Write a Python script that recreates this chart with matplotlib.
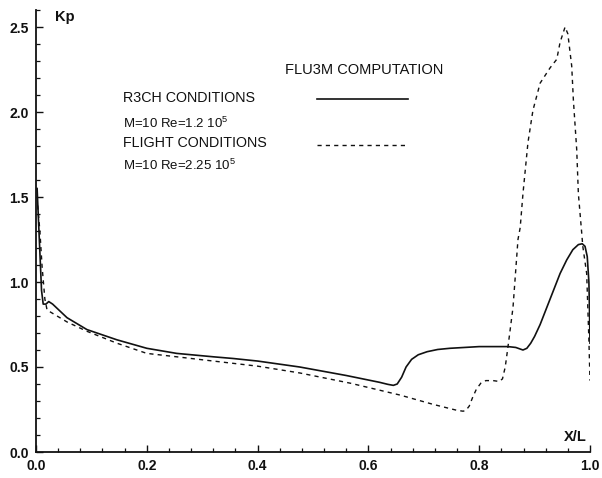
#!/usr/bin/env python3

##### Kp distribution along the body, FLU3M computation
##### R3CH wind tunnel conditions vs flight conditions

import numpy as np
import matplotlib.pyplot as plt
from matplotlib.ticker import MultipleLocator

##### Data
# R3CH conditions, M=10 Re=1.2 10^5 (solid)
x_r3ch = [0.002, 0.006, 0.010, 0.013, 0.018, 0.023, 0.030, 0.056, 0.092, 0.146,
          0.200, 0.254, 0.320, 0.356, 0.400, 0.476, 0.560, 0.620, 0.635,
          0.645, 0.652, 0.660, 0.668, 0.678, 0.690, 0.706, 0.725, 0.747,
          0.800, 0.852, 0.866, 0.879, 0.886, 0.893, 0.900, 0.910, 0.922,
          0.934, 0.946, 0.958, 0.969, 0.979, 0.986, 0.991, 0.995, 0.998,
          0.999, 1.000]
kp_r3ch = [1.55, 1.25, 0.95, 0.87, 0.87, 0.885, 0.87, 0.79, 0.72, 0.66,
           0.61, 0.58, 0.56, 0.55, 0.535, 0.50, 0.45, 0.41, 0.398,
           0.392, 0.40, 0.44, 0.50, 0.545, 0.572, 0.59, 0.603, 0.61,
           0.62, 0.62, 0.615, 0.60, 0.61, 0.64, 0.68, 0.75, 0.85,
           0.95, 1.05, 1.13, 1.19, 1.22, 1.225, 1.21, 1.15, 1.00,
           0.85, 0.64]

# Flight conditions, M=10 Re=2.25 10^5 (dashed)
x_flight = [0.003, 0.007, 0.011, 0.016, 0.020, 0.056, 0.092, 0.146, 0.200,
            0.254, 0.320, 0.400, 0.476, 0.567, 0.657, 0.717, 0.760, 0.771,
            0.776, 0.782, 0.788, 0.795, 0.803, 0.812, 0.825, 0.836, 0.842,
            0.847, 0.852, 0.861, 0.870, 0.874, 0.879, 0.888, 0.897, 0.910,
            0.928, 0.940, 0.946, 0.955, 0.960, 0.967, 0.970, 0.976, 0.979,
            0.985, 0.987, 0.994, 0.998, 1.000]
kp_flight = [1.45, 1.30, 1.09, 0.90, 0.835, 0.765, 0.71, 0.64, 0.58,
             0.56, 0.535, 0.505, 0.465, 0.405, 0.335, 0.28, 0.245, 0.24,
             0.245, 0.27, 0.32, 0.37, 0.405, 0.42, 0.42, 0.415, 0.43,
             0.50, 0.62, 0.85, 1.25, 1.32, 1.52, 1.82, 2.01, 2.17,
             2.26, 2.31, 2.41, 2.50, 2.46, 2.27, 2.07, 1.78, 1.52,
             1.29, 1.21, 1.05, 0.66, 0.42]

x_ticks = [0.0, 0.2, 0.4, 0.6, 0.8, 1.0]
x_tick_labels = ['0.0', '0.2', '0.4', '0.6', '0.8', '1.0']
y_ticks = [0.0, 0.5, 1.0, 1.5, 2.0, 2.5]
y_tick_labels = ['0.0', '0.5', '1.0', '1.5', '2.0', '2.5']

##### Style
plt.rcParams['font.family'] = ['Liberation Sans', 'DejaVu Sans']
plt.rcParams['mathtext.default'] = 'regular'
ink = '#111111'

fig = plt.figure(figsize=(6.02, 4.78), dpi=100)
ax = fig.add_axes([36 / 602, 1 - 452 / 478, 554 / 602, 442 / 478])

##### Curves
ax.plot(x_r3ch, kp_r3ch, color=ink, lw=1.2, solid_joinstyle='round')
ax.plot(x_flight, kp_flight, color=ink, lw=1.0, linestyle=(0, (3, 3)))

##### Axes
ax.set_xlim(0, 1.0)
ax.set_ylim(0, 2.6)
for side in ['top', 'right']:
    ax.spines[side].set_visible(False)
for side in ['left', 'bottom']:
    ax.spines[side].set_linewidth(1.3)
    ax.spines[side].set_color(ink)

ax.set_xticks(x_ticks)
ax.set_xticklabels(x_tick_labels, fontweight='bold')
ax.set_yticks(y_ticks)
ax.set_yticklabels(y_tick_labels, fontweight='bold')
ax.xaxis.set_minor_locator(MultipleLocator(0.04))
ax.yaxis.set_minor_locator(MultipleLocator(0.1))
ax.tick_params(which='major', direction='in', length=5, width=1.0,
               color=ink, labelsize=10, labelcolor=ink, pad=5)
ax.tick_params(which='minor', direction='in', length=3, width=0.9, color=ink)

##### Labels
ax.text(0.035, 2.56, 'Kp', fontsize=10.5, fontweight='bold', color=ink,
        va='center')
ax.text(0.995, 0.09, 'X/L', fontsize=10.5, fontweight='bold', color=ink,
        ha='right', va='center')

##### Legend block
ax.text(0.449, 2.25, 'FLU3M COMPUTATION', fontsize=10.5, color=ink,
        va='center')
ax.text(0.157, 2.08, 'R3CH CONDITIONS', fontsize=10.3, color=ink, va='center')
ax.text(0.157, 1.935, 'M=10 Re=1.2 10$^{5}$', fontsize=9.5, color=ink,
        va='center')
ax.text(0.157, 1.815, 'FLIGHT CONDITIONS', fontsize=10.3, color=ink,
        va='center')
ax.text(0.157, 1.685, 'M=10 Re=2.25 10$^{5}$', fontsize=9.5, color=ink,
        va='center')
ax.plot([0.507, 0.671], [2.076, 2.076], color=ink, lw=1.2)
ax.plot([0.507, 0.667], [1.806, 1.806], color=ink, lw=1.0,
        linestyle=(0, (3, 3)))

plt.savefig('out.png', dpi=100)
plt.close()
